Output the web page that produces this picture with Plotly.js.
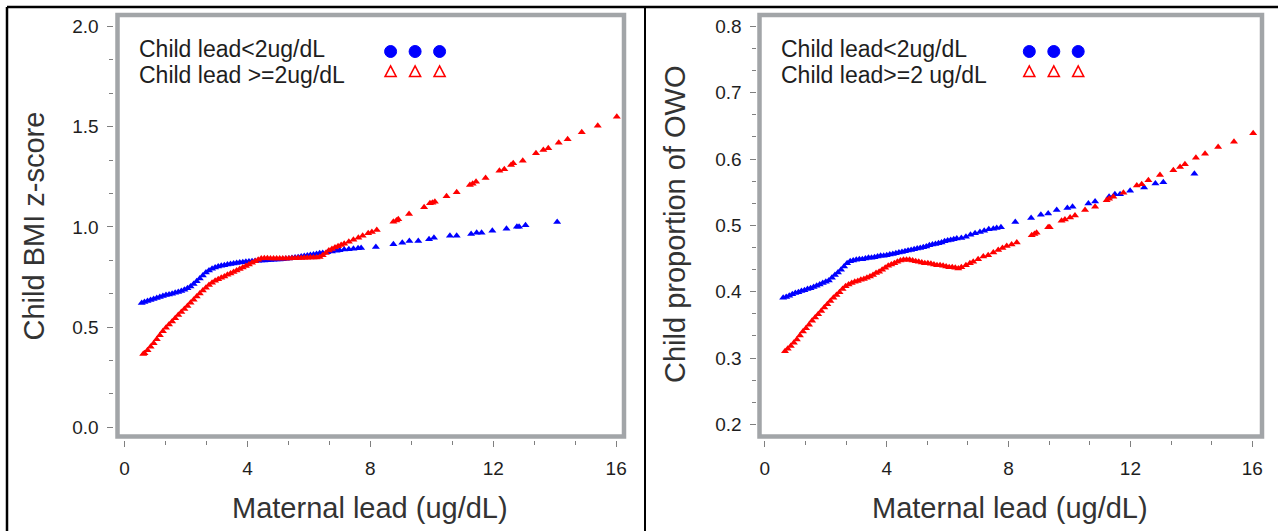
<!DOCTYPE html>
<html>
<head>
<meta charset="utf-8">
<script src="https://cdn.plot.ly/plotly-3.0.1.min.js"></script>
<style>
html,body{margin:0;padding:0;background:#fff;}
#chart{width:1278px;height:531px;}
</style>
</head>
<body>
<div id="chart"></div>
<script>
// ---------------- DATA ----------------
// Left panel: Child BMI z-score vs maternal lead
const bmiLowX = [0.56,0.65,0.75,0.85,0.95,1.05,1.15,1.25,1.35,1.45,1.55,1.65,1.75,1.85,1.95,2.05,2.15,2.25,2.35,2.45,2.55,2.65,2.75,2.85,2.95,3.05,3.15,3.25,3.35,3.45,3.55,3.65,3.75,3.85,3.95,4.05,4.15,4.25,4.35,4.45,4.55,4.65,4.75,4.85,4.95,5.05,5.15,5.25,5.35,5.45,5.55,5.65,5.75,5.85,5.95,6.05,6.15,6.25,6.35,6.45,6.6,6.75,6.9,7.0,7.15,7.3,7.45,7.6,7.7,8.18,8.75,9.04,9.27,9.56,9.91,10.07,10.59,10.81,11.28,11.46,11.62,11.97,12.43,12.77,12.84,13.05,14.08];
const bmiLowY = [0.620,0.625,0.630,0.636,0.640,0.645,0.650,0.655,0.660,0.663,0.667,0.671,0.675,0.680,0.687,0.694,0.703,0.715,0.729,0.743,0.758,0.772,0.783,0.791,0.797,0.802,0.806,0.809,0.812,0.815,0.818,0.820,0.822,0.824,0.826,0.828,0.829,0.830,0.831,0.832,0.833,0.834,0.835,0.836,0.837,0.838,0.839,0.841,0.843,0.845,0.847,0.849,0.852,0.855,0.857,0.860,0.862,0.865,0.868,0.870,0.873,0.877,0.881,0.884,0.887,0.889,0.891,0.893,0.895,0.900,0.913,0.921,0.930,0.930,0.938,0.946,0.956,0.956,0.965,0.971,0.971,0.981,0.991,1.001,1.001,1.008,1.024];

const bmiHighX = [0.61,0.65,0.75,0.85,0.95,1.05,1.15,1.25,1.35,1.45,1.55,1.65,1.75,1.85,1.95,2.05,2.15,2.25,2.35,2.45,2.55,2.65,2.75,2.85,2.95,3.05,3.15,3.25,3.35,3.45,3.55,3.65,3.75,3.85,3.95,4.05,4.15,4.25,4.35,4.45,4.55,4.65,4.75,4.85,4.95,5.05,5.15,5.25,5.35,5.45,5.55,5.65,5.75,5.85,5.95,6.05,6.15,6.25,6.35,6.45,6.55,6.65,6.75,6.85,6.95,7.05,7.15,7.3,7.45,7.61,7.75,7.93,8.05,8.21,8.75,8.85,8.91,9.26,9.75,9.94,10.02,10.10,10.48,10.81,11.24,11.33,11.44,11.75,12.2,12.36,12.58,12.65,12.96,13.39,13.63,13.79,14.13,14.42,14.88,15.4,16.02];
const bmiHighY = [0.366,0.370,0.385,0.402,0.420,0.440,0.460,0.480,0.497,0.513,0.528,0.544,0.560,0.575,0.591,0.606,0.622,0.637,0.653,0.668,0.683,0.697,0.710,0.722,0.731,0.739,0.746,0.753,0.761,0.768,0.775,0.783,0.790,0.797,0.805,0.813,0.821,0.829,0.836,0.842,0.844,0.844,0.843,0.843,0.843,0.842,0.842,0.843,0.843,0.844,0.844,0.845,0.845,0.846,0.846,0.847,0.847,0.848,0.850,0.858,0.870,0.882,0.890,0.897,0.904,0.910,0.916,0.926,0.936,0.946,0.956,0.968,0.975,0.985,1.026,1.032,1.038,1.064,1.098,1.118,1.121,1.126,1.153,1.173,1.209,1.215,1.225,1.244,1.280,1.287,1.309,1.317,1.330,1.367,1.384,1.392,1.420,1.437,1.472,1.505,1.550];

// Right panel: Child proportion of OWO vs maternal lead
const owoLowX = [0.6,0.7,0.8,0.9,1.0,1.1,1.2,1.3,1.4,1.5,1.6,1.7,1.8,1.9,2.0,2.1,2.2,2.3,2.4,2.5,2.6,2.7,2.8,2.9,3.0,3.1,3.2,3.3,3.4,3.5,3.6,3.7,3.8,3.9,4.0,4.1,4.2,4.3,4.4,4.5,4.6,4.7,4.8,4.9,5.0,5.1,5.2,5.3,5.4,5.5,5.6,5.7,5.8,5.9,6.0,6.1,6.2,6.3,6.45,6.6,6.75,6.9,7.06,7.2,7.35,7.5,7.61,7.75,8.22,8.74,9.06,9.30,9.58,9.93,10.1,10.62,10.84,11.30,11.49,11.66,11.99,12.45,12.82,13.08,14.1];
const owoLowY = [0.391,0.392,0.394,0.396,0.398,0.399,0.401,0.402,0.404,0.405,0.407,0.409,0.411,0.413,0.415,0.417,0.421,0.425,0.429,0.433,0.438,0.443,0.446,0.447,0.448,0.449,0.449,0.450,0.451,0.451,0.452,0.453,0.454,0.454,0.455,0.456,0.457,0.458,0.459,0.460,0.461,0.462,0.463,0.464,0.465,0.466,0.467,0.468,0.470,0.471,0.472,0.473,0.474,0.476,0.477,0.478,0.479,0.480,0.481,0.483,0.486,0.488,0.490,0.492,0.494,0.495,0.496,0.497,0.505,0.511,0.516,0.518,0.523,0.526,0.528,0.533,0.536,0.543,0.547,0.547,0.552,0.557,0.563,0.565,0.578];

const owoHighX = [0.66,0.75,0.85,0.95,1.05,1.15,1.25,1.35,1.45,1.55,1.65,1.75,1.85,1.95,2.05,2.15,2.25,2.35,2.45,2.55,2.65,2.75,2.85,2.95,3.05,3.15,3.25,3.35,3.45,3.55,3.65,3.75,3.85,3.95,4.05,4.15,4.25,4.35,4.45,4.55,4.65,4.75,4.85,4.95,5.05,5.15,5.25,5.35,5.45,5.55,5.65,5.75,5.85,5.95,6.05,6.15,6.25,6.35,6.45,6.6,6.73,6.84,7.0,7.17,7.33,7.5,7.66,7.8,7.94,8.1,8.27,8.76,8.85,8.92,9.30,9.35,9.74,9.85,10.02,10.18,10.51,10.84,11.22,11.30,11.44,11.77,12.21,12.37,12.59,12.97,13.41,13.63,13.79,14.15,14.45,14.88,15.4,16.03];
const owoHighY = [0.310,0.314,0.318,0.323,0.328,0.334,0.340,0.345,0.350,0.356,0.361,0.366,0.371,0.376,0.381,0.386,0.391,0.395,0.399,0.404,0.408,0.411,0.413,0.415,0.416,0.418,0.419,0.421,0.423,0.425,0.428,0.430,0.433,0.436,0.439,0.441,0.443,0.445,0.447,0.448,0.448,0.448,0.447,0.446,0.445,0.444,0.443,0.443,0.442,0.441,0.440,0.440,0.439,0.438,0.437,0.437,0.436,0.435,0.437,0.440,0.443,0.445,0.449,0.453,0.455,0.459,0.463,0.466,0.469,0.471,0.474,0.485,0.487,0.489,0.497,0.497,0.507,0.509,0.512,0.515,0.523,0.528,0.538,0.540,0.543,0.549,0.560,0.562,0.568,0.576,0.583,0.588,0.592,0.602,0.608,0.618,0.626,0.639];

const xTicks = [0,4,8,12,16];
const bmiTicks = [0.0,0.5,1.0,1.5,2.0];
const owoTicks = [0.2,0.3,0.4,0.5,0.6,0.7,0.8];

const legendLeft = ["Child lead<2ug/dL", "Child lead >=2ug/dL"];
const legendRight = ["Child lead<2ug/dL", "Child lead>=2 ug/dL"];
const xTitle = "Maternal lead (ug/dL)";
const yTitleLeft = "Child BMI z-score";
const yTitleRight = "Child proportion of OWO";

// ---------------- LAYOUT HELPERS ----------------
const W = 1278, H = 531;
const px = v => v / W;
const py = v => 1 - v / H;
const BLUE = '#0000ff', RED = '#ff0000';
const FONT = 'Liberation Sans, Arial, sans-serif';
const FRAME = '#a2a5a8';

function pts(x, y, color, xa, ya) {
  return {x: x, y: y, type: 'scatter', mode: 'markers', xaxis: xa, yaxis: ya,
    marker: {symbol: 'triangle-up', size: 7, color: color, line: {width: 0}},
    showlegend: false, hoverinfo: 'x+y'};
}

const data = [
  pts(bmiLowX, bmiLowY, BLUE, 'x', 'y'),
  pts(bmiHighX, bmiHighY, RED, 'x', 'y'),
  pts(owoLowX, owoLowY, BLUE, 'x2', 'y2'),
  pts(owoHighX, owoHighY, RED, 'x2', 'y2')
];

function xAxis(domain, range, anchor) {
  return {domain: domain, range: range, anchor: anchor, tickmode: 'array', tickvals: xTicks,
    ticks: 'outside', ticklen: 6, tickwidth: 1, tickcolor: '#7f7f7f',
    minor: {dtick: 4/3, tick0: 0, ticks: 'outside', ticklen: 4, tickwidth: 1, tickcolor: '#7f7f7f'},
    showline: false, showgrid: false, zeroline: false, ticklabelstandoff: 5,
    tickfont: {family: FONT, size: 19, color: '#1e1e1e'}, fixedrange: true};
}
function yAxis(domain, range, anchor, vals, mdt) {
  return {domain: domain, range: range, anchor: anchor, tickmode: 'array', tickvals: vals,
    tickformat: '.1f', ticks: 'outside', ticklen: 6, tickwidth: 1, tickcolor: '#7f7f7f',
    minor: {dtick: mdt, tick0: vals[0], ticks: 'outside', ticklen: 4, tickwidth: 1, tickcolor: '#7f7f7f'},
    showline: false, showgrid: false, zeroline: false, ticklabelstandoff: 4,
    tickfont: {family: FONT, size: 19, color: '#1e1e1e'}, fixedrange: true};
}

const yDom = [py(440), py(12)];
const layout = {
  width: W, height: H, margin: {l: 0, r: 0, t: 0, b: 0},
  paper_bgcolor: '#fff', plot_bgcolor: 'rgba(0,0,0,0)', showlegend: false,
  xaxis: xAxis([px(113.5), px(628)], [(113.5-124.5)/30.73, (628-124.5)/30.73], 'y'),
  yaxis: yAxis(yDom, [(427.4-440)/200.5, (427.4-12)/200.5], 'x', bmiTicks, 0.5/3),
  xaxis2: xAxis([px(756.5), px(1266)], [(756.5-764.9)/30.46, (1266-764.9)/30.46], 'y2'),
  yaxis2: yAxis(yDom, [0.8-(440-26.4)/663.2, 0.8+(26.4-12)/663.2], 'x2', owoTicks, 0.1/3),
  shapes: [],
  annotations: []
};

// outer black borders
layout.shapes.push({type: 'line', xref: 'paper', yref: 'paper', x0: px(7), x1: 1, y0: py(7), y1: py(7), line: {color: '#000', width: 2.5}});
layout.shapes.push({type: 'line', xref: 'paper', yref: 'paper', x0: px(7), x1: px(7), y0: py(7), y1: 0, line: {color: '#000', width: 2.5}});
layout.shapes.push({type: 'line', xref: 'paper', yref: 'paper', x0: px(645), x1: px(645), y0: py(7), y1: 0, line: {color: '#000', width: 2}});

// gray plot frames
layout.shapes.push({type: 'rect', xref: 'paper', yref: 'paper', x0: px(117.5), x1: px(624), y0: py(436.5), y1: py(15), line: {color: FRAME, width: 4.5}, layer: 'below'});
layout.shapes.push({type: 'rect', xref: 'paper', yref: 'paper', x0: px(759.5), x1: px(1262), y0: py(436.5), y1: py(15), line: {color: FRAME, width: 4.5}, layer: 'below'});

// legends (text + symbol keys)
function legend(texts, textX, keyXs) {
  layout.annotations.push({xref: 'paper', yref: 'paper', x: px(textX), y: py(49.5), xanchor: 'left', yanchor: 'middle', showarrow: false,
    text: texts[0], font: {family: FONT, size: 23, color: '#1e1e1e'}});
  layout.annotations.push({xref: 'paper', yref: 'paper', x: px(textX), y: py(74.5), xanchor: 'left', yanchor: 'middle', showarrow: false,
    text: texts[1], font: {family: FONT, size: 23, color: '#1e1e1e'}});
  keyXs.forEach(k => {
    layout.shapes.push({type: 'circle', xref: 'paper', yref: 'paper', x0: px(k-6), x1: px(k+6), y0: py(51.5+6), y1: py(51.5-6),
      fillcolor: BLUE, line: {color: BLUE, width: 1}});
    const a = px(k-5.5), b = px(k+5.5), c = px(k), top = py(66), bot = py(76.5);
    layout.shapes.push({type: 'path', xref: 'paper', yref: 'paper', path: `M ${a} ${bot} L ${b} ${bot} L ${c} ${top} Z`,
      line: {color: RED, width: 1.6}});
  });
}
legend(legendLeft, 137, [390.6, 415.1, 439.6]);
legend(legendRight, 779, [1029.3, 1053.8, 1078.2]);

// axis titles
const TITLEFONT = {family: FONT, size: 29, color: '#333'};
layout.annotations.push({xref: 'paper', yref: 'paper', x: px(370), y: py(508), xanchor: 'center', yanchor: 'middle', showarrow: false, text: xTitle, font: TITLEFONT});
layout.annotations.push({xref: 'paper', yref: 'paper', x: px(1010), y: py(508), xanchor: 'center', yanchor: 'middle', showarrow: false, text: xTitle, font: TITLEFONT});
layout.annotations.push({xref: 'paper', yref: 'paper', x: px(33.5), y: py(226), xanchor: 'center', yanchor: 'middle', showarrow: false, textangle: -90, text: yTitleLeft, font: TITLEFONT});
layout.annotations.push({xref: 'paper', yref: 'paper', x: px(675), y: py(224), xanchor: 'center', yanchor: 'middle', showarrow: false, textangle: -90, text: yTitleRight, font: TITLEFONT});

Plotly.newPlot('chart', data, layout, {displayModeBar: false, staticPlot: true});
</script>
</body>
</html>
